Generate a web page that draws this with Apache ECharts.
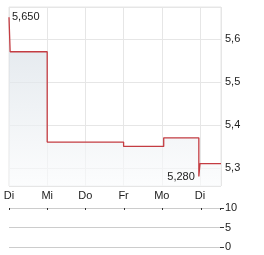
<!DOCTYPE html>
<html><head><meta charset="utf-8">
<script src="https://cdn.jsdelivr.net/npm/echarts@6/dist/echarts.min.js"></script>
<style>html,body{margin:0;padding:0;background:#fff}#c{width:264px;height:255px}</style>
</head><body><div id="c"></div>
<script>
// time in trading days since first "Di"; price in EUR
var dayLabels = ['Di', 'Mi', 'Do', 'Fr', 'Mo', 'Di'];
var times  = [0, 0.03, 1.0, 3.0, 4.05, 4.97, 5.0, 5.55];
var prices = [5.65, 5.57, 5.36, 5.35, 5.37, 5.28, 5.31, 5.31];
var volumeTicks = [0, 5, 10];
var volumes = [];

var fmt = function (v, d) { return v.toFixed(d).replace('.', ','); };
var lineData = times.map(function (t, i) { return [t, prices[i]]; });
var font = 'Liberation Sans, Arial, sans-serif';
var chart = echarts.init(document.getElementById('c'), null, {renderer: 'canvas'});
chart.setOption({
  animation: false,
  grid: [
    {left: 9, right: 43, top: 7, height: 179, show: true, borderColor: '#e6e6e6', borderWidth: 1},
    {left: 9, right: 44, top: 208, height: 39}
  ],
  xAxis: [
    {gridIndex: 0, type: 'value', min: 0, max: 5.55, interval: 1,
     axisLine: {show: false, onZero: false}, axisTick: {show: false},
     splitLine: {show: true, lineStyle: {color: '#e6e6e6'}},
     axisLabel: {margin: 4, color: '#222', fontSize: 11, fontFamily: font, showMaxLabel: false,
       formatter: function (v) { return dayLabels[Math.round(v)] || ''; }}},
    {gridIndex: 1, type: 'value', min: 0, max: 5.5, interval: 1, position: 'top',
     axisLine: {show: false, onZero: false},
     axisTick: {show: true, inside: true, length: 2, lineStyle: {color: '#333'}},
     splitLine: {show: false}, axisLabel: {show: false}}
  ],
  yAxis: [
    {gridIndex: 0, type: 'value', position: 'right', min: 5.258, max: 5.674, splitNumber: 5,
     axisLine: {show: false, onZero: false}, axisTick: {show: false},
     splitLine: {show: true, lineStyle: {color: '#e6e6e6'}},
     axisLabel: {margin: 4, color: '#222', fontSize: 11, fontFamily: font,
       showMinLabel: false, showMaxLabel: false,
       formatter: function (v) { return fmt(v, 1); }}},
    {gridIndex: 1, type: 'value', position: 'right', min: volumeTicks[0], max: volumeTicks[2], interval: 5,
     axisLine: {show: false, onZero: false},
     axisTick: {show: true, length: 4, lineStyle: {color: '#333'}},
     splitLine: {show: true, lineStyle: {color: '#cccccc'}},
     axisLabel: {margin: 5, color: '#222', fontSize: 11, fontFamily: font}}
  ],
  series: [
    {type: 'line', xAxisIndex: 0, yAxisIndex: 0, data: lineData, step: 'end',
     symbol: 'none', lineStyle: {color: '#c43c42', width: 1.3},
     areaStyle: {origin: 'start', color: new echarts.graphic.LinearGradient(0, 0, 0, 1, [
       {offset: 0, color: '#d3dbe3'}, {offset: 1, color: '#fafbfc'}])},
     markPoint: {symbol: 'circle', symbolSize: 0,
       data: [
         {type: 'max', label: {position: 'right', distance: 3}},
         {type: 'min', label: {position: 'left', distance: 4}}
       ],
       label: {show: true, color: '#222', fontSize: 11, fontFamily: font,
         formatter: function (p) { return fmt(p.value, 3); }}}},
    {type: 'bar', xAxisIndex: 1, yAxisIndex: 1, data: volumes}
  ]
});
</script></body></html>
